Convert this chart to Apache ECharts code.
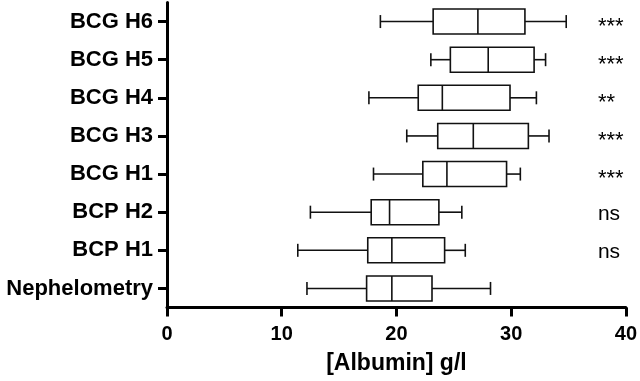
<!DOCTYPE html>
<html><head><meta charset="utf-8">
<script src="https://cdn.jsdelivr.net/npm/echarts@6/dist/echarts.min.js"></script>
<style>html,body{margin:0;padding:0;background:#fff}#c{width:640px;height:381px}</style>
</head><body><div id="c"></div>
<script>
const categories = ['BCG H6','BCG H5','BCG H4','BCG H3','BCG H1','BCP H2','BCP H1','Nephelometry'];
const whiskerMin = [18.6, 23.0, 17.6, 20.9, 18.0, 12.5, 11.4, 12.2];
const quartile1  = [23.2, 24.7, 21.9, 23.6, 22.3, 17.8, 17.5, 17.4];
const medians    = [27.1, 28.0, 24.0, 26.7, 24.4, 19.4, 19.6, 19.6];
const quartile3  = [31.2, 32.0, 29.9, 31.5, 29.6, 23.7, 24.2, 23.1];
const whiskerMax = [34.8, 33.0, 32.2, 33.3, 30.8, 25.7, 26.0, 28.2];
const significance = ['***','***','**','***','***','ns','ns',''];
const xMin = 0, xMax = 40, xInterval = 10;

const FONT = "'Liberation Sans', Arial, Helvetica, sans-serif";
const boxData = categories.map((c, i) => [i, whiskerMin[i], quartile1[i], medians[i], quartile3[i], whiskerMax[i]]);

const chart = echarts.init(document.getElementById('c'), null, {renderer: 'canvas'});
const LW = 1.6, COL = '#111';
function renderItem(params, api) {
  const i = api.value(0);
  const pMin = api.coord([api.value(1), i]);
  const pQ1 = api.coord([api.value(2), i]);
  const pMed = api.coord([api.value(3), i]);
  const pQ3 = api.coord([api.value(4), i]);
  const pMax = api.coord([api.value(5), i]);
  const y = pMin[1];
  const boxH = 25, capH = 13;
  const st = {stroke: COL, lineWidth: LW, fill: null};
  const children = [
    {type: 'line', shape: {x1: pMin[0], y1: y, x2: pQ1[0], y2: y}, style: st},
    {type: 'line', shape: {x1: pQ3[0], y1: y, x2: pMax[0], y2: y}, style: st},
    {type: 'line', shape: {x1: pMin[0], y1: y - capH/2, x2: pMin[0], y2: y + capH/2}, style: st},
    {type: 'line', shape: {x1: pMax[0], y1: y - capH/2, x2: pMax[0], y2: y + capH/2}, style: st},
    {type: 'rect', shape: {x: pQ1[0], y: y - boxH/2, width: pQ3[0] - pQ1[0], height: boxH}, style: {stroke: COL, lineWidth: LW, fill: '#fff'}},
    {type: 'line', shape: {x1: pMed[0], y1: y - boxH/2, x2: pMed[0], y2: y + boxH/2}, style: st}
  ];
  const sig = significance[i];
  if (sig) {
    const xr = api.coord([xMax, i])[0];
    const isStar = sig.indexOf('*') >= 0;
    children.push({
      type: 'text',
      x: xr - 28, y: y + (isStar ? 5 : 2),
      style: {text: sig, fill: '#000', font: (isStar ? '22px ' : '21px ') + FONT, textAlign: 'left', textVerticalAlign: 'middle'}
    });
  }
  return {type: 'group', children};
}

chart.setOption({
  animation: false,
  backgroundColor: '#fff',
  grid: {left: 167, right: 14, top: 2.5, height: 305, containLabel: false},
  xAxis: {
    type: 'value', min: xMin, max: xMax, interval: xInterval,
    axisLine: {show: true, lineStyle: {color: '#000', width: 3}},
    axisTick: {show: true, length: 9, lineStyle: {color: '#000', width: 3}},
    splitLine: {show: false},
    axisLabel: {color: '#000', fontSize: 20, fontWeight: 'bold', fontFamily: FONT, margin: 17},
    name: '[Albumin] g/l', nameLocation: 'middle', nameGap: 45,
    nameTextStyle: {color: '#000', fontSize: 23, fontWeight: 'bold', fontFamily: FONT}
  },
  yAxis: {
    type: 'category', data: categories, inverse: true,
    axisLine: {show: true, lineStyle: {color: '#000', width: 3}},
    axisTick: {show: true, alignWithLabel: true, length: 9, lineStyle: {color: '#000', width: 3}},
    splitLine: {show: false},
    axisLabel: {color: '#000', fontSize: 22, fontWeight: 'bold', fontFamily: FONT, margin: 14}
  },
  series: [{
    type: 'custom', renderItem: renderItem, data: boxData,
    encode: {x: [1,2,3,4,5], y: 0}, clip: false
  }]
});
</script></body></html>
